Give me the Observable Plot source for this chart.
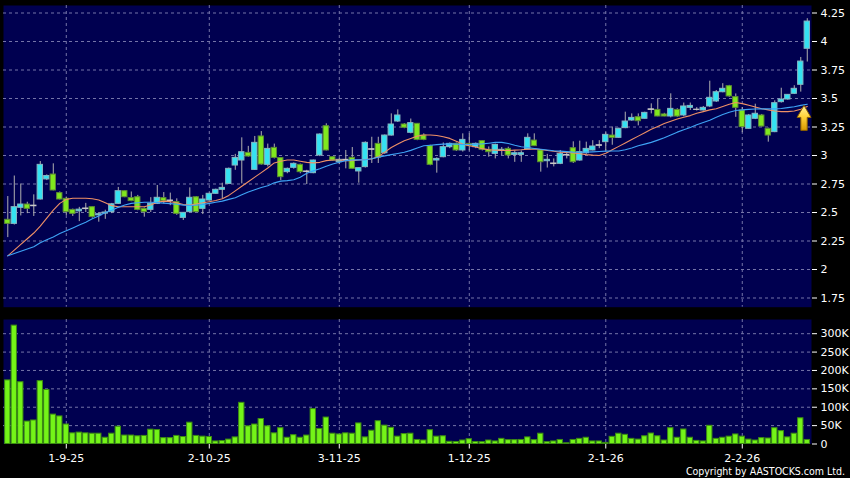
<!DOCTYPE html>
<html><head><meta charset="utf-8">
<script src="https://cdn.jsdelivr.net/npm/d3@7"></script>
<script src="https://cdn.jsdelivr.net/npm/@observablehq/plot@0.6"></script>
<style>
html,body{margin:0;padding:0;background:#000;}
#chart{position:relative;width:850px;height:478px;background:#000;overflow:hidden;font-family:"DejaVu Sans",sans-serif;}
#price{position:absolute;left:0;top:0;}
#vol{position:absolute;left:0;top:310px;}
#copy{position:absolute;right:5px;top:465px;color:#fff;font-size:10.5px;line-height:12px;font-family:"DejaVu Sans Condensed","DejaVu Sans",sans-serif;font-stretch:condensed;white-space:nowrap;}
</style></head><body>
<div id="chart"><div id="price"></div><div id="vol"></div><div id="copy">Copyright by AASTOCKS.com Ltd.</div></div>
<script>
// ---- data ----
const dateLabels = ["1-9-25","2-10-25","3-11-25","1-12-25","2-1-26","2-2-26"];
const dateTickIndex = [9,31,51,71,92,113];
const priceTicks = [1.75,2,2.25,2.5,2.75,3,3.25,3.5,3.75,4,4.25];
const volumeTicks = [0,50,100,150,200,250,300]; // thousands

const open = [2.436,2.40,2.541,2.57,2.555,2.614,2.79,2.833,2.67,2.62,
2.523,2.51,2.53,2.547,2.475,2.49,2.503,2.576,2.687,2.626,
2.634,2.532,2.523,2.576,2.626,2.60,2.591,2.453,2.503,2.634,
2.532,2.605,2.664,2.699,2.751,2.912,2.956,3.023,2.874,3.167,
2.918,3.067,2.977,2.854,2.892,2.918,2.855,2.845,3.00,3.257,
2.985,2.942,2.96,2.98,2.86,2.898,3.05,3.102,3.02,3.175,
3.298,3.272,3.199,3.278,3.175,3.082,2.956,2.985,3.073,3.102,
3.044,3.102,3.073,3.126,3.05,3.014,3.04,3.058,3.005,3.005,
3.053,3.131,3.044,2.95,2.925,2.927,3.00,3.064,2.956,3.02,
3.044,3.085,3.117,3.175,3.155,3.24,3.307,3.336,3.322,3.40,
3.40,3.36,3.342,3.40,3.351,3.418,3.40,3.395,3.43,3.474,
3.555,3.608,3.512,3.395,3.234,3.322,3.351,3.234,3.205,3.468,
3.491,3.541,3.62,3.936];
const high = [2.64,2.82,2.75,2.59,2.655,2.947,2.83,2.927,2.68,2.635,
2.53,2.545,2.58,2.55,2.50,2.52,2.58,2.72,2.69,2.68,
2.65,2.54,2.63,2.737,2.675,2.67,2.62,2.50,2.716,2.64,
2.65,2.67,2.705,2.757,2.89,3.01,3.155,3.08,3.167,3.21,
3.10,3.10,2.98,2.89,2.935,2.925,2.87,2.96,3.19,3.278,
2.99,2.975,3.044,3.07,2.89,3.12,3.16,3.16,3.18,3.365,
3.40,3.28,3.32,3.28,3.19,3.09,2.98,3.11,3.11,3.11,
3.19,3.19,3.11,3.13,3.075,3.10,3.07,3.073,3.04,3.04,
3.19,3.19,3.05,3.01,2.97,3.044,3.03,3.12,3.126,3.117,
3.13,3.13,3.20,3.25,3.24,3.38,3.365,3.365,3.38,3.453,
3.491,3.37,3.541,3.41,3.46,3.46,3.42,3.43,3.652,3.57,
3.63,3.615,3.54,3.42,3.36,3.45,3.36,3.24,3.48,3.59,
3.535,3.612,3.86,4.20];
const low = [2.28,2.39,2.47,2.49,2.465,2.61,2.78,2.69,2.61,2.474,
2.465,2.42,2.50,2.45,2.415,2.44,2.49,2.57,2.63,2.595,
2.515,2.459,2.50,2.57,2.575,2.56,2.475,2.43,2.50,2.50,
2.482,2.60,2.66,2.62,2.745,2.87,2.751,2.985,2.87,2.915,
2.90,2.97,2.78,2.84,2.88,2.84,2.745,2.84,2.99,3.04,
2.95,2.92,2.883,2.88,2.757,2.89,2.93,2.93,3.01,3.17,
3.29,3.235,3.19,3.13,3.13,2.91,2.845,2.98,3.06,3.035,
3.03,3.04,3.06,3.04,2.985,2.97,3.00,2.97,2.94,2.94,
3.05,3.08,2.854,2.89,2.90,2.92,2.97,2.93,2.95,3.01,
3.04,3.06,3.04,3.09,3.15,3.235,3.30,3.26,3.32,3.365,
3.34,3.34,3.33,3.335,3.34,3.395,3.39,3.39,3.42,3.465,
3.55,3.51,3.335,3.20,3.23,3.315,3.25,3.117,3.20,3.46,
3.485,3.535,3.556,3.82];
const close = [2.40,2.547,2.57,2.532,2.56,2.918,2.82,2.693,2.614,2.503,
2.488,2.525,2.535,2.46,2.485,2.50,2.572,2.687,2.634,2.60,
2.523,2.503,2.576,2.629,2.60,2.605,2.488,2.497,2.629,2.503,
2.614,2.664,2.699,2.716,2.883,2.979,3.029,2.991,3.111,2.921,
3.058,2.979,2.81,2.883,2.927,2.854,2.86,2.956,3.184,3.044,
2.956,2.962,2.962,2.883,2.889,3.111,3.055,2.98,3.175,3.272,
3.351,3.243,3.284,3.137,3.137,2.918,2.97,3.073,3.102,3.044,
3.137,3.082,3.102,3.05,3.029,3.093,3.05,3.00,3.02,3.02,
3.155,3.082,2.941,2.962,2.93,3.014,3.005,2.941,3.029,3.058,
3.079,3.09,3.181,3.155,3.234,3.298,3.33,3.301,3.374,3.405,
3.342,3.342,3.409,3.342,3.43,3.435,3.402,3.418,3.506,3.555,
3.585,3.518,3.418,3.249,3.351,3.366,3.254,3.175,3.459,3.491,
3.532,3.585,3.824,4.175];
const volume = [173,322,168,61,64,171,147,80,75,53,
29,31,29,28,28,17,28,47,23,23,
21,22,39,38,16,16,22,19,58,22,
20,19,7,8,12,18,112,48,53,68,
48,29,43,17,24,17,23,95,41,72,
28,26,29,28,56,18,36,62,50,44,
20,27,28,11,9.5,37.5,20,21,6,5.5,
9.5,13,5.5,5,9.5,7,14,10.5,10.5,11,
18,10.5,28,5,7,11,2,11,14,17,
7,7,3,19.5,28,25,14,12,21,28.5,
21,9.5,43,17,39.5,17,8.5,7,49.5,14,
17,20,26,20,12,9.5,16,15,43,35,
18,28,70,11]; // thousands of shares
const maShort = [2.12,2.17,2.22,2.27,2.32,2.38,2.45,2.52,2.58,2.615,
2.625,2.625,2.625,2.62,2.61,2.585,2.56,2.55,2.55,2.55,
2.55,2.55,2.565,2.59,2.60,2.595,2.585,2.57,2.565,2.575,
2.585,2.595,2.605,2.62,2.65,2.69,2.73,2.77,2.81,2.85,
2.89,2.935,2.95,2.96,2.96,2.95,2.94,2.935,2.94,2.955,
2.96,2.96,2.955,2.955,2.96,2.965,2.97,2.99,3.03,3.07,
3.10,3.13,3.15,3.17,3.18,3.18,3.175,3.165,3.15,3.125,
3.10,3.085,3.075,3.06,3.05,3.047,3.045,3.044,3.047,3.05,
3.055,3.058,3.052,3.044,3.037,3.03,3.026,3.023,3.016,3.008,
3.003,3.0,3.02,3.05,3.08,3.11,3.14,3.17,3.20,3.23,
3.255,3.28,3.30,3.32,3.335,3.35,3.37,3.385,3.40,3.41,
3.43,3.45,3.465,3.455,3.44,3.425,3.41,3.40,3.39,3.385,
3.385,3.39,3.405,3.43];
const maLong = [2.12,2.14,2.16,2.18,2.20,2.235,2.26,2.285,2.315,2.34,
2.365,2.39,2.415,2.445,2.47,2.50,2.52,2.545,2.565,2.58,
2.585,2.59,2.59,2.587,2.582,2.578,2.572,2.565,2.562,2.565,
2.57,2.58,2.59,2.60,2.615,2.63,2.655,2.68,2.70,2.72,
2.735,2.76,2.775,2.78,2.787,2.81,2.845,2.865,2.883,2.905,
2.925,2.94,2.955,2.962,2.962,2.962,2.972,2.985,2.997,3.008,
3.018,3.029,3.045,3.065,3.085,3.09,3.095,3.10,3.102,3.10,
3.097,3.097,3.10,3.102,3.108,3.115,3.115,3.105,3.09,3.077,
3.07,3.062,3.055,3.048,3.042,3.038,3.034,3.03,3.029,3.03,
3.032,3.035,3.038,3.04,3.04,3.05,3.065,3.085,3.10,3.115,
3.135,3.155,3.18,3.205,3.225,3.245,3.27,3.29,3.31,3.335,
3.36,3.38,3.395,3.40,3.405,3.408,3.409,3.409,3.409,3.412,
3.42,3.428,3.44,3.45];
// annotation: yellow up-arrow under the last candles
const arrowIndex = [122.5];
const arrowPrice = [3.33];

// ---- build ----
const candles = open.map((o, i) => ({
  i, open: o, high: high[i], low: low[i], close: close[i],
  vol: volume[i] * 1000, maS: maShort[i], maL: maLong[i]
}));
const arrows = arrowIndex.map((x, k) => ({i: x, p: arrowPrice[k]}));

const NAVY = "#000050";
const GRID = "#7474a8";
const xDomain = [-0.66, 123.65];
const isDoji = d => Math.abs(d.close - d.open) < 0.006;
const upFill = "#34e2f2", upStroke = "#86b7c2";
const dnFill = "#80e81e", dnStroke = "#5c8c34";

const arrowSymbol = {
  draw(ctx) {
    ctx.moveTo(0, -12.5);
    ctx.lineTo(7, -0.5);
    ctx.lineTo(3.2, -0.5);
    ctx.lineTo(3.2, 12.5);
    ctx.lineTo(-3.2, 12.5);
    ctx.lineTo(-3.2, -0.5);
    ctx.lineTo(-7, -0.5);
    ctx.closePath();
  }
};

// gradient definition used by the arrow
const gradientDefs = () => {
  const defs = d3.create("svg:defs");
  const g = defs.append("linearGradient").attr("id", "arrowGrad").attr("x1", 0).attr("y1", 0).attr("x2", 0).attr("y2", 1);
  g.append("stop").attr("offset", "0%").attr("stop-color", "#fff3a0");
  g.append("stop").attr("offset", "45%").attr("stop-color", "#ffd23a");
  g.append("stop").attr("offset", "100%").attr("stop-color", "#d89a00");
  return defs.node();
};

const axisStyle = {background: "transparent", color: "#fff", fontFamily: "DejaVu Sans, sans-serif", fontSize: "11px"};

const pricePlot = Plot.plot({
  width: 850, height: 310,
  marginLeft: 3, marginRight: 39, marginTop: 5, marginBottom: 3.3,
  style: axisStyle,
  x: {domain: xDomain, axis: null},
  y: {domain: [3 - (306.7 - 155) / 114, 3 + (155 - 5) / 114], axis: "right", ticks: priceTicks,
      tickFormat: d => String(d), tickSize: 5, tickPadding: 4, label: null},
  marks: [
    gradientDefs,
    Plot.frame({fill: NAVY, stroke: "none"}),
    Plot.ruleY(priceTicks, {stroke: GRID, strokeDasharray: "3,3", strokeWidth: 1}),
    Plot.ruleX(dateTickIndex, {stroke: GRID, strokeDasharray: "3,3", strokeWidth: 1}),
    Plot.ruleX(candles, {x: "i", y1: "low", y2: "high", stroke: "#b0b0b0", strokeWidth: 1}),
    Plot.rect(candles, {
      x1: d => d.i - 0.41, x2: d => d.i + 0.41, y1: "open", y2: "close",
      fill: d => isDoji(d) ? "#c8c8c8" : d.close > d.open ? upFill : dnFill,
      stroke: d => isDoji(d) ? "#c8c8c8" : d.close > d.open ? upStroke : dnStroke,
      strokeWidth: 1
    }),
    Plot.line(candles, {x: "i", y: "maS", stroke: "#ef9066", strokeWidth: 1.1}),
    Plot.line(candles, {x: "i", y: "maL", stroke: "#3ea3f5", strokeWidth: 1.1}),
    Plot.dot(arrows, {x: "i", y: "p", symbol: arrowSymbol, fill: "url(#arrowGrad)", stroke: "#8a5e00", strokeWidth: 1})
  ]
});

const volPlot = Plot.plot({
  width: 850, height: 168,
  marginLeft: 3, marginRight: 39, marginTop: 9, marginBottom: 34.5,
  style: axisStyle,
  x: {domain: xDomain, ticks: dateTickIndex, tickFormat: d => dateLabels[dateTickIndex.indexOf(d)],
      tickSize: 5, tickPadding: 5, label: null},
  y: {domain: [0, (443.5 - 319) * 300000 / 110.3], axis: "right", ticks: volumeTicks.map(v => v * 1000),
      tickFormat: d => d === 0 ? "0" : (d / 1000) + "K", tickSize: 5, tickPadding: 4, label: null},
  marks: [
    Plot.frame({fill: NAVY, stroke: "none"}),
    Plot.ruleY(volumeTicks.filter(v => v > 0).map(v => v * 1000), {stroke: GRID, strokeDasharray: "3,3"}),
    Plot.ruleX(dateTickIndex, {stroke: GRID, strokeDasharray: "3,3"}),
    Plot.rect(candles, {x1: d => d.i - 0.41, x2: d => d.i + 0.41, y1: 0, y2: "vol",
      fill: "#74f418", stroke: "#3c8c12", strokeWidth: 1})
  ]
});

document.getElementById("price").appendChild(pricePlot);
document.getElementById("vol").appendChild(volPlot);
</script>
</body></html>
